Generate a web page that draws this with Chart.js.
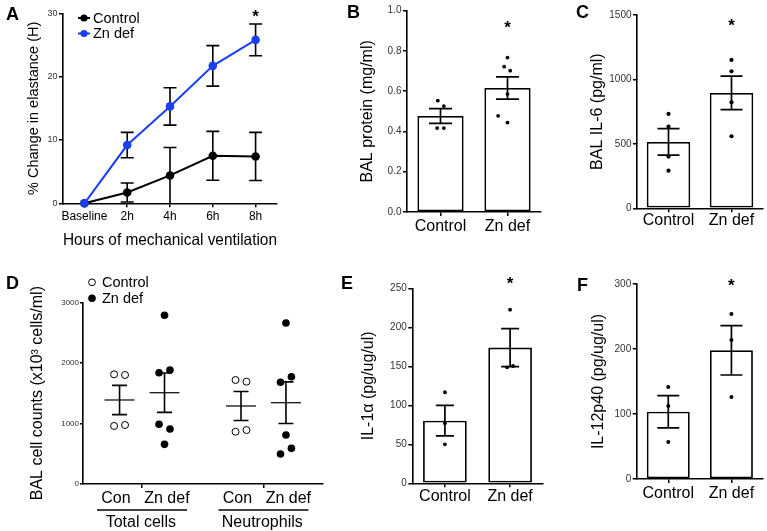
<!DOCTYPE html>
<html>
<head>
<meta charset="utf-8">
<title>Zinc deficiency and ventilator-induced lung injury</title>
<script src="https://cdn.jsdelivr.net/npm/chart.js@4.4.1/dist/chart.umd.min.js"></script>
<style>
  html, body { margin:0; padding:0; background:#fff; }
  #page { position:relative; width:767px; height:531px; overflow:hidden; background:#fff; }
  #page canvas { position:absolute; left:0; top:0; }
  .panel-letter { position:absolute; font-family:"Liberation Sans", Arial, Helvetica, sans-serif; font-weight:bold; font-size:18px; line-height:1; color:#000; }
</style>
</head>
<body>
<div id="page">
  <canvas id="chartA" width="767" height="531"></canvas>
  <canvas id="chartB" width="767" height="531"></canvas>
  <canvas id="chartC" width="767" height="531"></canvas>
  <canvas id="chartD" width="767" height="531"></canvas>
  <canvas id="chartE" width="767" height="531"></canvas>
  <canvas id="chartF" width="767" height="531"></canvas>
  <div class="panel-letter" style="left:6px;top:5px">A</div>
  <div class="panel-letter" style="left:347px;top:3px">B</div>
  <div class="panel-letter" style="left:576px;top:3px">C</div>
  <div class="panel-letter" style="left:6px;top:274px">D</div>
  <div class="panel-letter" style="left:341px;top:274px">E</div>
  <div class="panel-letter" style="left:577px;top:276px">F</div>
</div>
<script>
// ================= DATA =================
// Panel A: % change in elastance over time
const timeLabels = ['Baseline', '2h', '4h', '6h', '8h'];
const elastanceControl = [0, 1.7, 4.4, 7.5, 7.4];
const elastanceControlSem = [0, 1.5, 4.4, 3.85, 3.8];
const elastanceZnDef = [0, 9.2, 15.3, 21.7, 25.8];
const elastanceZnDefSem = [0, 2.0, 2.95, 3.2, 2.5];
const elastanceTicks = [0, 10, 20, 30];
const elastanceStars = [null, null, null, null, 30.2];

// Shared group labels for bar panels
const groupLabels = ['Control', 'Zn def'];

// Panel B: BAL protein (mg/ml)
const proteinMean = [0.477, 0.616];
const proteinSem = [0.037, 0.055];
const proteinControl = [0.553, 0.526, 0.417, 0.417];
const proteinZnDef = [0.767, 0.722, 0.702, 0.586, 0.478, 0.444];
const proteinControlJitter = [-0.04, 0.05, -0.05, 0.05];
const proteinZnDefJitter = [0, -0.05, 0.04, 0, -0.14, 0];
const proteinTicks = [0, 0.2, 0.4, 0.6, 0.8, 1.0];
const proteinStars = [null, 0.94];

// Panel C: BAL IL-6 (pg/ml)
const il6Mean = [515, 895];
const il6Sem = [103, 130];
const il6Control = [732, 634, 401, 292];
const il6ZnDef = [1151, 1063, 822, 559];
const il6Ticks = [0, 500, 1000, 1500];
const il6Stars = [null, 1453];

// Panel D: BAL cell counts (x10^3 cells/ml)
const cellGroups = ['Total cells', 'Neutrophils'];
const cellSubLabels = ['Con', 'Zn def'];
const totalControl = [1811, 1800, 958, 974];
const totalControlJitter = [-0.045, 0.045, -0.045, 0.045];
const totalZnDef = [2785, 1838, 1882, 986, 908, 655];
const totalZnDefJitter = [0, -0.045, 0.045, -0.045, 0.045, 0];
const neutControl = [1717, 1689, 863, 891];
const neutControlJitter = [-0.045, 0.045, -0.045, 0.045];
const neutZnDef = [2658, 1679, 1772, 809, 589, 495];
const neutZnDefJitter = [0, -0.045, 0.045, 0, 0.045, -0.045];
const cellControlMean = [1387, 1288];
const cellControlSem = [242, 240];
const cellZnDefMean = [1507, 1342];
const cellZnDefSem = [325, 344];
const cellTicks = [0, 1000, 2000, 3000];

// Panel E: IL-1alpha (pg/ug/ul)
const il1aMean = [80.3, 174];
const il1aSem = [19.5, 24.4];
const il1aControl = [116.7, 77, 50];
const il1aZnDef = [222.6, 148.7, 150.4];
const il1aControlJitter = [0, 0, 0];
const il1aZnDefJitter = [0, -0.045, 0.045];
const il1aTicks = [0, 50, 100, 150, 200, 250];
const il1aStars = [null, 262];

// Panel F: IL-12p40 (pg/ug/ul)
const il12Mean = [103.6, 198];
const il12Sem = [24.8, 38];
const il12Control = [141.5, 112.3, 56.9];
const il12ZnDef = [253.8, 213.8, 126.2];
const il12Ticks = [0, 100, 200, 300];
const il12Stars = [null, 304.6];

// ================= STYLE / HELPERS =================
const FONT = '"Liberation Sans", Arial, Helvetica, sans-serif';
const BLUE = '#1a3ff2';
Chart.defaults.font.family = FONT;
Chart.defaults.color = '#000';
Chart.defaults.animation = false;

function pts(values, pos, jitter) {
  return values.map((v, i) => ({ x: pos + (jitter ? jitter[i] : 0), y: v }));
}

function drawErrors(chart, sets) {
  const ctx = chart.ctx;
  const ys = chart.scales.y;
  ctx.save();
  ctx.strokeStyle = '#000';
  ctx.lineCap = 'butt';
  sets.forEach(s => {
    const xs = chart.scales[s.xAxis || 'x'];
    s.means.forEach((m, i) => {
      const x = xs.getPixelForValue(s.xs ? s.xs[i] : i);
      const e = s.sems[i];
      ctx.lineWidth = s.lineWidth || 1.6;
      if (e > 0) {
        const lo = Math.max(m - e, ys.min);
        const yt = ys.getPixelForValue(m + e);
        const yb = ys.getPixelForValue(lo);
        ctx.beginPath();
        ctx.moveTo(x, yt); ctx.lineTo(x, yb);
        ctx.moveTo(x - s.cap / 2, yt); ctx.lineTo(x + s.cap / 2, yt);
        if (m - e > ys.min + 1e-9) { ctx.moveTo(x - s.cap / 2, yb); ctx.lineTo(x + s.cap / 2, yb); }
        ctx.stroke();
      }
      if (s.meanWidth) {
        const ym = ys.getPixelForValue(m);
        ctx.lineWidth = s.meanLineWidth || 1.2;
        ctx.beginPath();
        ctx.moveTo(x - s.meanWidth / 2, ym); ctx.lineTo(x + s.meanWidth / 2, ym);
        ctx.stroke();
      }
    });
  });
  ctx.restore();
}

const decorPlugin = {
  id: 'decor',
  beforeDatasetsDraw(chart, args, o) {
    if (o.errorsBehind) drawErrors(chart, o.errorsBehind);
  },
  afterDatasetDraw(chart, args, o) {
    if (o.errorsAfter && args.index === o.errorsAfter.index) drawErrors(chart, o.errorsAfter.sets);
  },
  afterDatasetsDraw(chart, args, o) {
    if (o.errorsFront) drawErrors(chart, o.errorsFront);
  },
  afterDraw(chart, args, o) {
    const ctx = chart.ctx;
    ctx.save();
    if (o.stars) {
      const xs = chart.scales[o.stars.xAxis || 'x'];
      const ys = chart.scales.y;
      const size = 17;
      ctx.font = 'bold ' + size + 'px ' + FONT;
      ctx.fillStyle = '#000';
      ctx.textAlign = 'center';
      ctx.textBaseline = 'alphabetic';
      o.stars.values.forEach((v, i) => {
        if (v === null || v === undefined) return;
        const x = xs.getPixelForValue(i);
        const y = ys.getPixelForValue(v);
        ctx.fillText('*', x, y + 0.58 * size);
      });
    }
    if (o.legend) {
      const L = o.legend;
      ctx.font = L.fontSize + 'px ' + FONT;
      ctx.textAlign = 'left';
      ctx.textBaseline = 'middle';
      L.items.forEach((it, k) => {
        const y = L.y + k * L.gap;
        ctx.strokeStyle = it.color; ctx.fillStyle = it.color;
        if (it.style === 'lineDot') {
          ctx.lineWidth = 2;
          ctx.beginPath(); ctx.moveTo(L.x - 6, y); ctx.lineTo(L.x + 6, y); ctx.stroke();
          ctx.beginPath(); ctx.arc(L.x, y, 3.6, 0, Math.PI * 2); ctx.fill();
        } else if (it.style === 'open') {
          ctx.lineWidth = 1;
          ctx.beginPath(); ctx.arc(L.x, y, 3.4, 0, Math.PI * 2); ctx.stroke();
        } else {
          ctx.beginPath(); ctx.arc(L.x, y, 3.8, 0, Math.PI * 2); ctx.fill();
        }
        ctx.fillStyle = '#000';
        ctx.fillText(it.label, L.textX, y + 0.5);
      });
    }
    if (o.groups) {
      const G = o.groups;
      const xs = chart.scales.x;
      const bottom = chart.chartArea.bottom;
      ctx.fillStyle = '#000'; ctx.strokeStyle = '#000';
      ctx.textAlign = 'center'; ctx.textBaseline = 'middle';
      G.labels.forEach((lab, g) => {
        ctx.font = G.fontSize + 'px ' + FONT;
        G.sub.forEach((s, j) => {
          const x = xs.getPixelForValue(g + G.subOffsets[j]);
          ctx.fillText(s, x, bottom + G.subDy);
        });
        const x0 = xs.getPixelForValue(g - G.lineHalf);
        const x1 = xs.getPixelForValue(g + G.lineHalf);
        ctx.lineWidth = 1.5;
        ctx.beginPath(); ctx.moveTo(x0, bottom + G.lineDy); ctx.lineTo(x1, bottom + G.lineDy); ctx.stroke();
        ctx.fillText(lab, xs.getPixelForValue(g + G.labelShift), bottom + G.labelDy);
      });
    }
    ctx.restore();
  }
};

function layoutPad(g, xHeight) {
  const left = g.titleX - g.titleSize / 2;
  return { left: left, top: g.top, right: 767 - g.right, bottom: 531 - g.bottom - xHeight };
}

function yAxis(g, cfg) {
  const padLeft = g.titleX - g.titleSize / 2;
  return {
    type: 'linear', position: 'left',
    min: cfg.ticks[0], max: cfg.ticks[cfg.ticks.length - 1],
    afterBuildTicks: s => { s.ticks = cfg.ticks.map(v => ({ value: v })); },
    ticks: {
      font: { size: cfg.tickSize, lineHeight: 1 }, color: '#333', padding: cfg.tickPad,
      callback: cfg.fmt || (v => String(v))
    },
    grid: { display: true, drawOnChartArea: false, drawTicks: true, tickLength: cfg.tickLen || 4, color: '#000', lineWidth: 1.5 },
    border: { display: true, color: '#000', width: 1.6 },
    title: { display: true, text: cfg.title, font: { size: g.titleSize, lineHeight: 1 }, padding: 0, color: '#000' },
    afterFit: s => { s.width = g.left - padLeft; }
  };
}

function xCategory(h, tickSize, tickPad, title) {
  const ax = {
    type: 'category', offset: true,
    grid: { display: true, offset: false, drawOnChartArea: false, drawTicks: true, tickLength: 4, color: '#000', lineWidth: 1.5 },
    border: { display: true, color: '#000', width: 1.6 },
    ticks: { font: { size: tickSize, lineHeight: 1 }, color: '#000', padding: tickPad, maxRotation: 0, autoSkip: false },
    afterFit: s => { s.height = h; }
  };
  if (title) ax.title = { display: true, text: title.text, font: { size: title.size, lineHeight: 1 }, padding: 0, color: '#000' };
  return ax;
}

const baseOptions = (pad) => ({
  responsive: false, animation: false, events: [],
  layout: { padding: pad },
});

// ================= PANEL A =================
(function () {
  const g = { titleX: 33.7, titleSize: 14.5, left: 63, right: 277, top: 13.3, bottom: 203.3 };
  const xh = 45.3;
  new Chart(document.getElementById('chartA'), {
    type: 'line',
    data: {
      labels: timeLabels,
      datasets: [
        { label: 'Control', data: elastanceControl, borderColor: '#000', backgroundColor: '#000',
          pointBackgroundColor: '#000', pointBorderWidth: 0, pointRadius: 4.3, borderWidth: 2, tension: 0, clip: false, order: 2 },
        { label: 'Zn def', data: elastanceZnDef, borderColor: BLUE, backgroundColor: BLUE,
          pointBackgroundColor: BLUE, pointBorderWidth: 0, pointRadius: 4.3, borderWidth: 2, tension: 0, clip: false, order: 1 }
      ]
    },
    options: Object.assign(baseOptions(layoutPad(g, xh)), {
      plugins: {
        legend: { display: false }, tooltip: { enabled: false },
        decor: {
          errorsBehind: [
            { means: elastanceControl, sems: elastanceControlSem, cap: 13, lineWidth: 1.6 },
            { means: elastanceZnDef, sems: elastanceZnDefSem, cap: 13, lineWidth: 1.6 }
          ],
          stars: { values: elastanceStars },
          legend: { x: 84, textX: 93, y: 18, gap: 15.5, fontSize: 14.5,
            items: [{ label: 'Control', color: '#000', style: 'lineDot' }, { label: 'Zn def', color: BLUE, style: 'lineDot' }] }
        }
      },
      scales: {
        x: xCategory(xh, 12, 3.5, { text: 'Hours of mechanical ventilation', size: 16.5 }),
        y: yAxis(g, { ticks: elastanceTicks, tickSize: 9, tickPad: 1.5, title: '% Change in elastance (H)' })
      }
    }),
    plugins: [decorPlugin]
  });
})();

// ================= BAR PANELS (B, C, E, F) =================
function barPanel(id, g, spec) {
  const xh = 30;
  return new Chart(document.getElementById(id), {
    type: 'bar',
    data: {
      labels: groupLabels,
      datasets: [
        { type: 'bar', data: spec.means, backgroundColor: '#fff', borderColor: '#000', borderWidth: 1.8,
          borderSkipped: false, grouped: false, barPercentage: spec.barPct, categoryPercentage: 1, order: 2 },
        { type: 'scatter', xAxisID: 'xd', data: pts(spec.control, 0, spec.controlJitter),
          pointRadius: spec.dotR, pointBackgroundColor: '#000', pointBorderWidth: 0, clip: false, order: 1 },
        { type: 'scatter', xAxisID: 'xd', data: pts(spec.zn, 1, spec.znJitter),
          pointRadius: spec.dotR, pointBackgroundColor: '#000', pointBorderWidth: 0, clip: false, order: 1 }
      ]
    },
    options: Object.assign(baseOptions(layoutPad(g, xh)), {
      plugins: {
        legend: { display: false }, tooltip: { enabled: false },
        decor: {
          errorsAfter: { index: 0, sets: [{ means: spec.means, sems: spec.sems, cap: spec.cap, lineWidth: 1.7 }] },
          stars: { values: spec.stars }
        }
      },
      scales: {
        x: xCategory(xh, 16, spec.labelPad),
        xd: { type: 'linear', min: -0.5, max: 1.5, display: false, offset: false, grid: { offset: false } },
        y: yAxis(g, { ticks: spec.ticks, tickSize: 10, tickPad: 1.5, title: spec.title, fmt: spec.fmt })
      }
    }),
    plugins: [decorPlugin]
  });
}

barPanel('chartB', { titleX: 368, titleSize: 16, left: 407, right: 541, top: 10.7, bottom: 212 }, {
  means: proteinMean, sems: proteinSem, control: proteinControl, zn: proteinZnDef,
  controlJitter: proteinControlJitter, znJitter: proteinZnDefJitter, ticks: proteinTicks,
  stars: proteinStars, title: 'BAL protein (mg/ml)', fmt: v => v.toFixed(1),
  barPct: 0.69, cap: 23, dotR: 1.9, labelPad: 2.5
});

barPanel('chartC', { titleX: 597.5, titleSize: 16, left: 637, right: 765, top: 15, bottom: 208.3 }, {
  means: il6Mean, sems: il6Sem, control: il6Control, zn: il6ZnDef,
  controlJitter: null, znJitter: null, ticks: il6Ticks,
  stars: il6Stars, title: 'BAL IL-6 (pg/ml)',
  barPct: 0.69, cap: 22, dotR: 2.1, labelPad: 0.5
});

barPanel('chartE', { titleX: 369, titleSize: 16, left: 412.3, right: 542.7, top: 288.3, bottom: 483.3 }, {
  means: il1aMean, sems: il1aSem, control: il1aControl, zn: il1aZnDef,
  controlJitter: il1aControlJitter, znJitter: il1aZnDefJitter, ticks: il1aTicks,
  stars: il1aStars, title: 'IL-1α (pg/ug/ul)',
  barPct: 0.67, cap: 18, dotR: 1.9, labelPad: 1.5
});

barPanel('chartF', { titleX: 599, titleSize: 16, left: 636.7, right: 765, top: 284, bottom: 479 }, {
  means: il12Mean, sems: il12Sem, control: il12Control, zn: il12ZnDef,
  controlJitter: null, znJitter: null, ticks: il12Ticks,
  stars: il12Stars, title: 'IL-12p40 (pg/ug/ul)',
  barPct: 0.68, cap: 22, dotR: 2.0, labelPad: 2.3
});

// ================= PANEL D =================
(function () {
  const g = { titleX: 38, titleSize: 16, left: 83, right: 323, top: 302.3, bottom: 484 };
  const xh = 40;
  const SUB = 0.185;
  new Chart(document.getElementById('chartD'), {
    type: 'scatter',
    data: {
      datasets: [
        { label: 'Control',
          data: pts(totalControl, -SUB, totalControlJitter).concat(pts(neutControl, 1 - SUB, neutControlJitter)),
          pointRadius: 3.5, pointBackgroundColor: '#fff', pointBorderColor: '#000', pointBorderWidth: 1, clip: false },
        { label: 'Zn def',
          data: pts(totalZnDef, SUB, totalZnDefJitter).concat(pts(neutZnDef, 1 + SUB, neutZnDefJitter)),
          pointRadius: 3.8, pointBackgroundColor: '#000', pointBorderWidth: 0, clip: false }
      ]
    },
    options: Object.assign(baseOptions(layoutPad(g, xh)), {
      plugins: {
        legend: { display: false }, tooltip: { enabled: false },
        decor: {
          errorsFront: [
            { xs: [-SUB, 1 - SUB], means: cellControlMean, sems: cellControlSem, cap: 15, meanWidth: 30, lineWidth: 1.6 },
            { xs: [SUB, 1 + SUB], means: cellZnDefMean, sems: cellZnDefSem, cap: 15, meanWidth: 30, lineWidth: 1.6 }
          ],
          legend: { x: 92, textX: 102, y: 282.3, gap: 16, fontSize: 14.5,
            items: [{ label: 'Control', color: '#000', style: 'open' }, { label: 'Zn def', color: '#000', style: 'filled' }] },
          groups: { labels: cellGroups, sub: cellSubLabels, subOffsets: [-0.215, 0.205], fontSize: 16,
            lineHalf: 0.37, labelShift: -0.01, subDy: 14.5, lineDy: 26, labelDy: 38.5 }
        }
      },
      scales: {
        x: {
          type: 'linear', min: -0.486, max: 1.49,
          afterBuildTicks: s => { s.ticks = [{ value: 0 }, { value: 1 }]; },
          ticks: { callback: () => '', font: { size: 10 } },
          grid: { display: true, drawOnChartArea: false, drawTicks: true, tickLength: 4, color: '#000', lineWidth: 1.5 },
          border: { display: true, color: '#000', width: 1.6 },
          afterFit: s => { s.height = xh; }
        },
        y: yAxis(g, { ticks: cellTicks, tickSize: 8, tickPad: 1, tickLen: 3, title: 'BAL cell counts (x10³ cells/ml)' })
      }
    }),
    plugins: [decorPlugin]
  });
})();
</script>
</body>
</html>
